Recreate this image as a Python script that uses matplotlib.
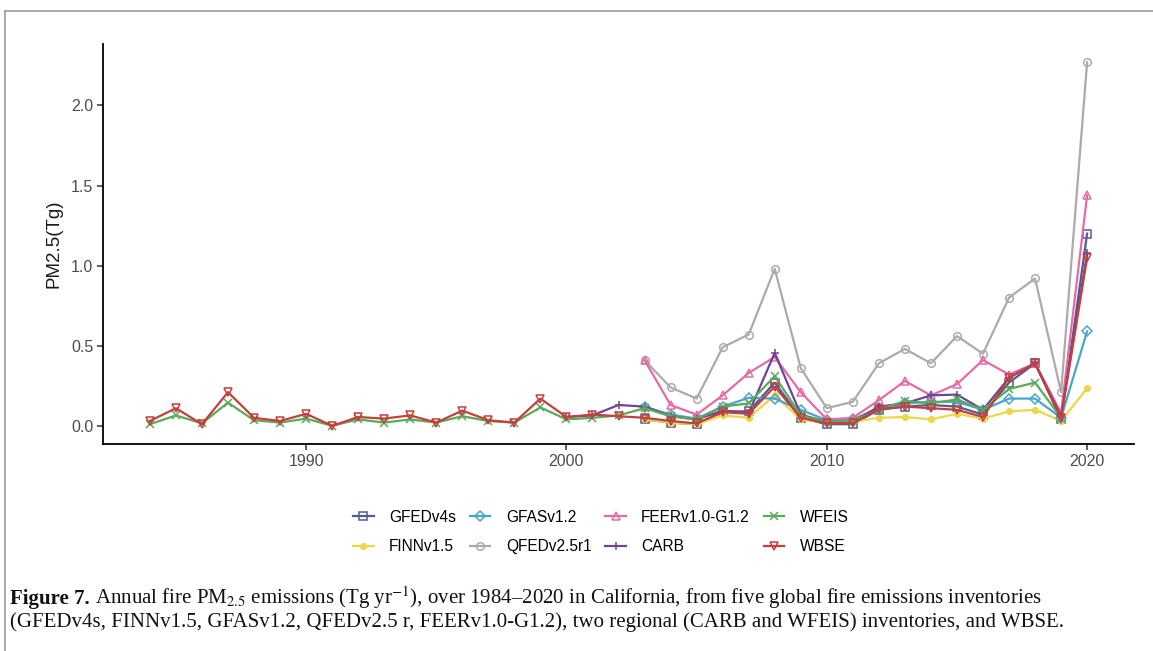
import matplotlib
matplotlib.use("Agg")
import matplotlib.pyplot as plt
from matplotlib.lines import Line2D

plt.rcParams["font.family"] = ["Liberation Sans", "DejaVu Sans"]
plt.rcParams["mathtext.fontset"] = "stix"

# annual fire PM2.5 emissions (Tg)
wbse_years = list(range(1984, 2021))
wbse = [0.03, 0.11, 0.01, 0.21, 0.05, 0.03, 0.075, 0.0, 0.055, 0.045, 0.065, 0.02,
        0.095, 0.035, 0.02, 0.17, 0.055, 0.07,
        0.06, 0.05, 0.03, 0.015, 0.085, 0.075, 0.245, 0.05, 0.015, 0.015, 0.105,
        0.12, 0.11, 0.10, 0.055, 0.30, 0.39, 0.05, 1.05]

wfeis_years = list(range(1984, 2020))
wfeis = [0.01, 0.065, 0.015, 0.145, 0.035, 0.02, 0.045, 0.0, 0.04, 0.02, 0.04, 0.02,
         0.06, 0.03, 0.02, 0.115, 0.04, 0.05,
         0.065, 0.11, 0.06, 0.04, 0.12, 0.14, 0.31, 0.065, 0.025, 0.03, 0.10,
         0.155, 0.14, 0.165, 0.10, 0.23, 0.27, 0.05]

carb_years = list(range(2000, 2021))
carb = [0.055, 0.065, 0.13, 0.12, 0.06, 0.04, 0.095, 0.08, 0.455, 0.07, 0.025, 0.025,
        0.12, 0.14, 0.19, 0.195, 0.10, 0.30, 0.39, 0.06, 1.08]

glob_years = list(range(2003, 2021))
gfed = [0.04, 0.02, 0.01, 0.09, 0.09, 0.27, 0.05, 0.01, 0.01, 0.10, 0.12, 0.13,
        0.12, 0.07, 0.27, 0.39, 0.04, 1.20]
finn = [0.04, 0.02, 0.01, 0.065, 0.05, 0.19, 0.04, 0.02, 0.025, 0.05, 0.055, 0.04,
        0.075, 0.045, 0.09, 0.10, 0.03, 0.235]
gfas = [0.12, 0.07, 0.045, 0.12, 0.175, 0.17, 0.10, 0.035, 0.04, 0.11, 0.14, 0.15,
        0.15, 0.10, 0.17, 0.17, 0.05, 0.59]
qfed = [0.41, 0.24, 0.17, 0.49, 0.57, 0.98, 0.36, 0.11, 0.15, 0.39, 0.48, 0.39,
        0.56, 0.45, 0.80, 0.92, 0.21, 2.27]
feer = [0.41, 0.13, 0.07, 0.19, 0.33, 0.43, 0.21, 0.04, 0.05, 0.16, 0.28, 0.19,
        0.26, 0.41, 0.32, 0.39, 0.08, 1.44]

# (label, years, values, colour, marker, filled) in ggplot drawing order
series = [
    ("GFEDv4s", glob_years, gfed, "#4f5c96", "s", False),
    ("FINNv1.5", glob_years, finn, "#ecd64c", "o", True),
    ("GFASv1.2", glob_years, gfas, "#4aa5c9", "D", False),
    ("QFEDv2.5r1", glob_years, qfed, "#ababab", "o", False),
    ("FEERv1.0-G1.2", glob_years, feer, "#e46ca6", "^", False),
    ("CARB", carb_years, carb, "#6e4596", "+", True),
    ("WFEIS", wfeis_years, wfeis, "#5aaa5a", "x", True),
    ("WBSE", wbse_years, wbse, "#c53f3c", "v", False),
]

fig = plt.figure(figsize=(11.53, 6.51), dpi=100)
ax = fig.add_axes([103 / 1153, 1 - 444 / 651, (1134 - 103) / 1153, (444 - 44) / 651])

for label, yrs, vals, col, mk, filled in series:
    ms = 4 if (mk == "o" and filled) else 5.5
    ax.plot(yrs, vals, color=col, lw=1.6, marker=mk, ms=ms,
            mfc=col if filled else "none", mec=col, mew=1.1, label=label)

ax.set_xlim(1982.2, 2021.8)
ax.set_ylim(-0.1135, 2.3835)
ax.set_xticks([1990, 2000, 2010, 2020])
ax.set_yticks([0.0, 0.5, 1.0, 1.5, 2.0])
ax.set_yticklabels(["0.0", "0.5", "1.0", "1.5", "2.0"])
for s in ["top", "right"]:
    ax.spines[s].set_visible(False)
for s in ["left", "bottom"]:
    ax.spines[s].set_linewidth(1.3)
ax.tick_params(axis="both", length=4, width=1.1, color="#333333",
               labelcolor="#4d4d4d", labelsize=11.5, pad=3)
ax.set_ylabel("PM2.5(Tg)", fontsize=13.5, color="#1a1a1a", labelpad=6)

fig.legend(loc="center", bbox_to_anchor=(601 / 1153, 1 - 532 / 651), ncol=4,
           frameon=False, fontsize=11.2, handlelength=1.3, columnspacing=0.9,
           handletextpad=1.0, labelspacing=0.95)

# page frame
fig.add_artist(Line2D([5 / 1153, 1], [1 - 11 / 651, 1 - 11 / 651],
                      transform=fig.transFigure, color="#9a9a9a", lw=1.2))
fig.add_artist(Line2D([5 / 1153, 5 / 1153], [0, 1 - 11 / 651],
                      transform=fig.transFigure, color="#9a9a9a", lw=1.2))

# caption
cap = dict(family="Liberation Serif", fontsize=15, color="#111111")
x0 = 10 / 1153
t1 = fig.text(x0, 1 - 604 / 651, "Figure 7.", fontweight="bold", **cap)
fig.canvas.draw()
w = t1.get_window_extent(fig.canvas.get_renderer()).width / fig.bbox.width
fig.text(x0 + w, 1 - 604 / 651,
         r" Annual fire PM$_{2.5}$ emissions (Tg yr$^{-1}$), over 1984–2020 in California, "
         "from five global fire emissions inventories", **cap)
fig.text(x0, 1 - 627 / 651,
         "(GFEDv4s, FINNv1.5, GFASv1.2, QFEDv2.5 r, FEERv1.0-G1.2), two regional "
         "(CARB and WFEIS) inventories, and WBSE.", **cap)

fig.savefig("out.png", dpi=100)
